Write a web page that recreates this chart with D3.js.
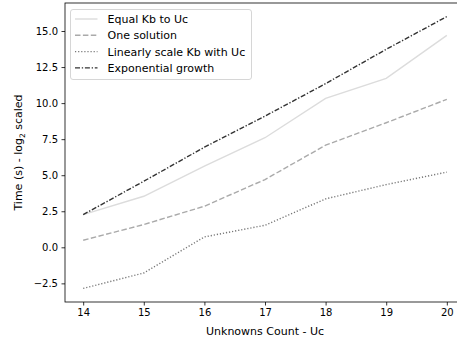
<!DOCTYPE html>
<html><head><meta charset="utf-8">
<script src="https://cdn.jsdelivr.net/npm/d3@7"></script>
<style>body{margin:0;background:#fff}svg{display:block}text{font-family:"DejaVu Sans",sans-serif}</style>
</head><body>
<svg id="c" width="457" height="342"></svg>
<script>
const xs = [14, 15, 16, 17, 18, 19, 20];
const equalKb = [2.27, 3.54, 5.63, 7.6, 10.33, 11.72, 14.7];
const oneSolution = [0.49, 1.58, 2.85, 4.7, 7.08, 8.64, 10.26];
const linearKb = [-2.85, -1.78, 0.72, 1.53, 3.36, 4.35, 5.21];
const expGrowth = [2.27, 4.58, 6.94, 9.1, 11.35, 13.73, 16.0];
const yTicks = [-2.5, 0, 2.5, 5, 7.5, 10, 12.5, 15];
const seriesNames = ["Equal Kb to Uc", "One solution", "Linearly scale Kb with Uc", "Exponential growth"];

const series = [
  {name: seriesNames[0], v: equalKb, color: "#dcdcdc", dash: null},
  {name: seriesNames[1], v: oneSolution, color: "#aaaaaa", dash: "5.5,2.4"},
  {name: seriesNames[2], v: linearKb, color: "#777777", dash: "1.2,1.9"},
  {name: seriesNames[3], v: expGrowth, color: "#333333", dash: "5,1.8,1.3,1.8"}
];

const L = 65, R = 465, T = 3, B = 302;
const svg = d3.select("#c");
const all = [].concat(...series.map(s => s.v));
const ymin = d3.min(all), ymax = d3.max(all), yr = ymax - ymin;
const x = d3.scaleLinear().domain([14 - 0.3, 20 + 0.3]).range([L, R]);
const y = d3.scaleLinear().domain([ymin - 0.05 * yr, ymax + 0.05 * yr]).range([B, T]);

const line = d3.line().x((d, i) => x(xs[i])).y(d => y(d));
series.forEach(s => {
  svg.append("path").attr("d", line(s.v)).attr("fill", "none")
    .attr("stroke", s.color).attr("stroke-width", 1.4)
    .attr("stroke-dasharray", s.dash).attr("stroke-linecap", "butt");
});

const xa = svg.append("g").attr("transform", `translate(0,${B})`)
  .call(d3.axisBottom(x).tickValues(xs).tickFormat(d3.format("d")).tickSize(3.5).tickPadding(3.5));
const ya = svg.append("g").attr("transform", `translate(${L},0)`)
  .call(d3.axisLeft(y).tickValues(yTicks).tickFormat(d => (d < 0 ? "\u2212" : "") + Math.abs(d).toFixed(1)).tickSize(3.5).tickPadding(3.5));
[xa, ya].forEach(a => {
  a.selectAll("text").attr("font-size", 10).attr("fill", "#000").attr("font-family", "DejaVu Sans");
  a.selectAll("line").attr("stroke", "#000").attr("stroke-width", 0.8);
  a.select(".domain").remove();
});
// spines
svg.append("rect").attr("x", L).attr("y", T).attr("width", R - L).attr("height", B - T)
  .attr("fill", "none").attr("stroke", "#000").attr("stroke-width", 0.8);

svg.append("text").attr("x", (L + R) / 2).attr("y", 334.5).attr("text-anchor", "middle")
  .attr("font-size", 11).text("Unknowns Count - Uc");
const yl = svg.append("text").attr("transform", `translate(22,${(T + B) / 2}) rotate(-90)`)
  .attr("text-anchor", "middle").attr("font-size", 11);
yl.append("tspan").text("Time (s) - log");
yl.append("tspan").attr("font-size", 7.5).attr("dy", 2.5).text("2");
yl.append("tspan").attr("dy", -2.5).text(" scaled");

// legend
const lg = svg.append("g");
lg.append("rect").attr("x", 70.5).attr("y", 9.5).attr("width", 181).attr("height", 70)
  .attr("rx", 2.5).attr("fill", "#fff").attr("fill-opacity", 0.8)
  .attr("stroke", "#cccccc").attr("stroke-width", 0.8);
series.forEach((s, i) => {
  const yy = 19 + i * 16.3;
  lg.append("line").attr("x1", 75).attr("x2", 97.5).attr("y1", yy).attr("y2", yy)
    .attr("stroke", s.color).attr("stroke-width", 1.4).attr("stroke-dasharray", s.dash);
  lg.append("text").attr("x", 107.5).attr("y", yy + 4).attr("font-size", 11).text(s.name);
});
</script>
</body></html>
